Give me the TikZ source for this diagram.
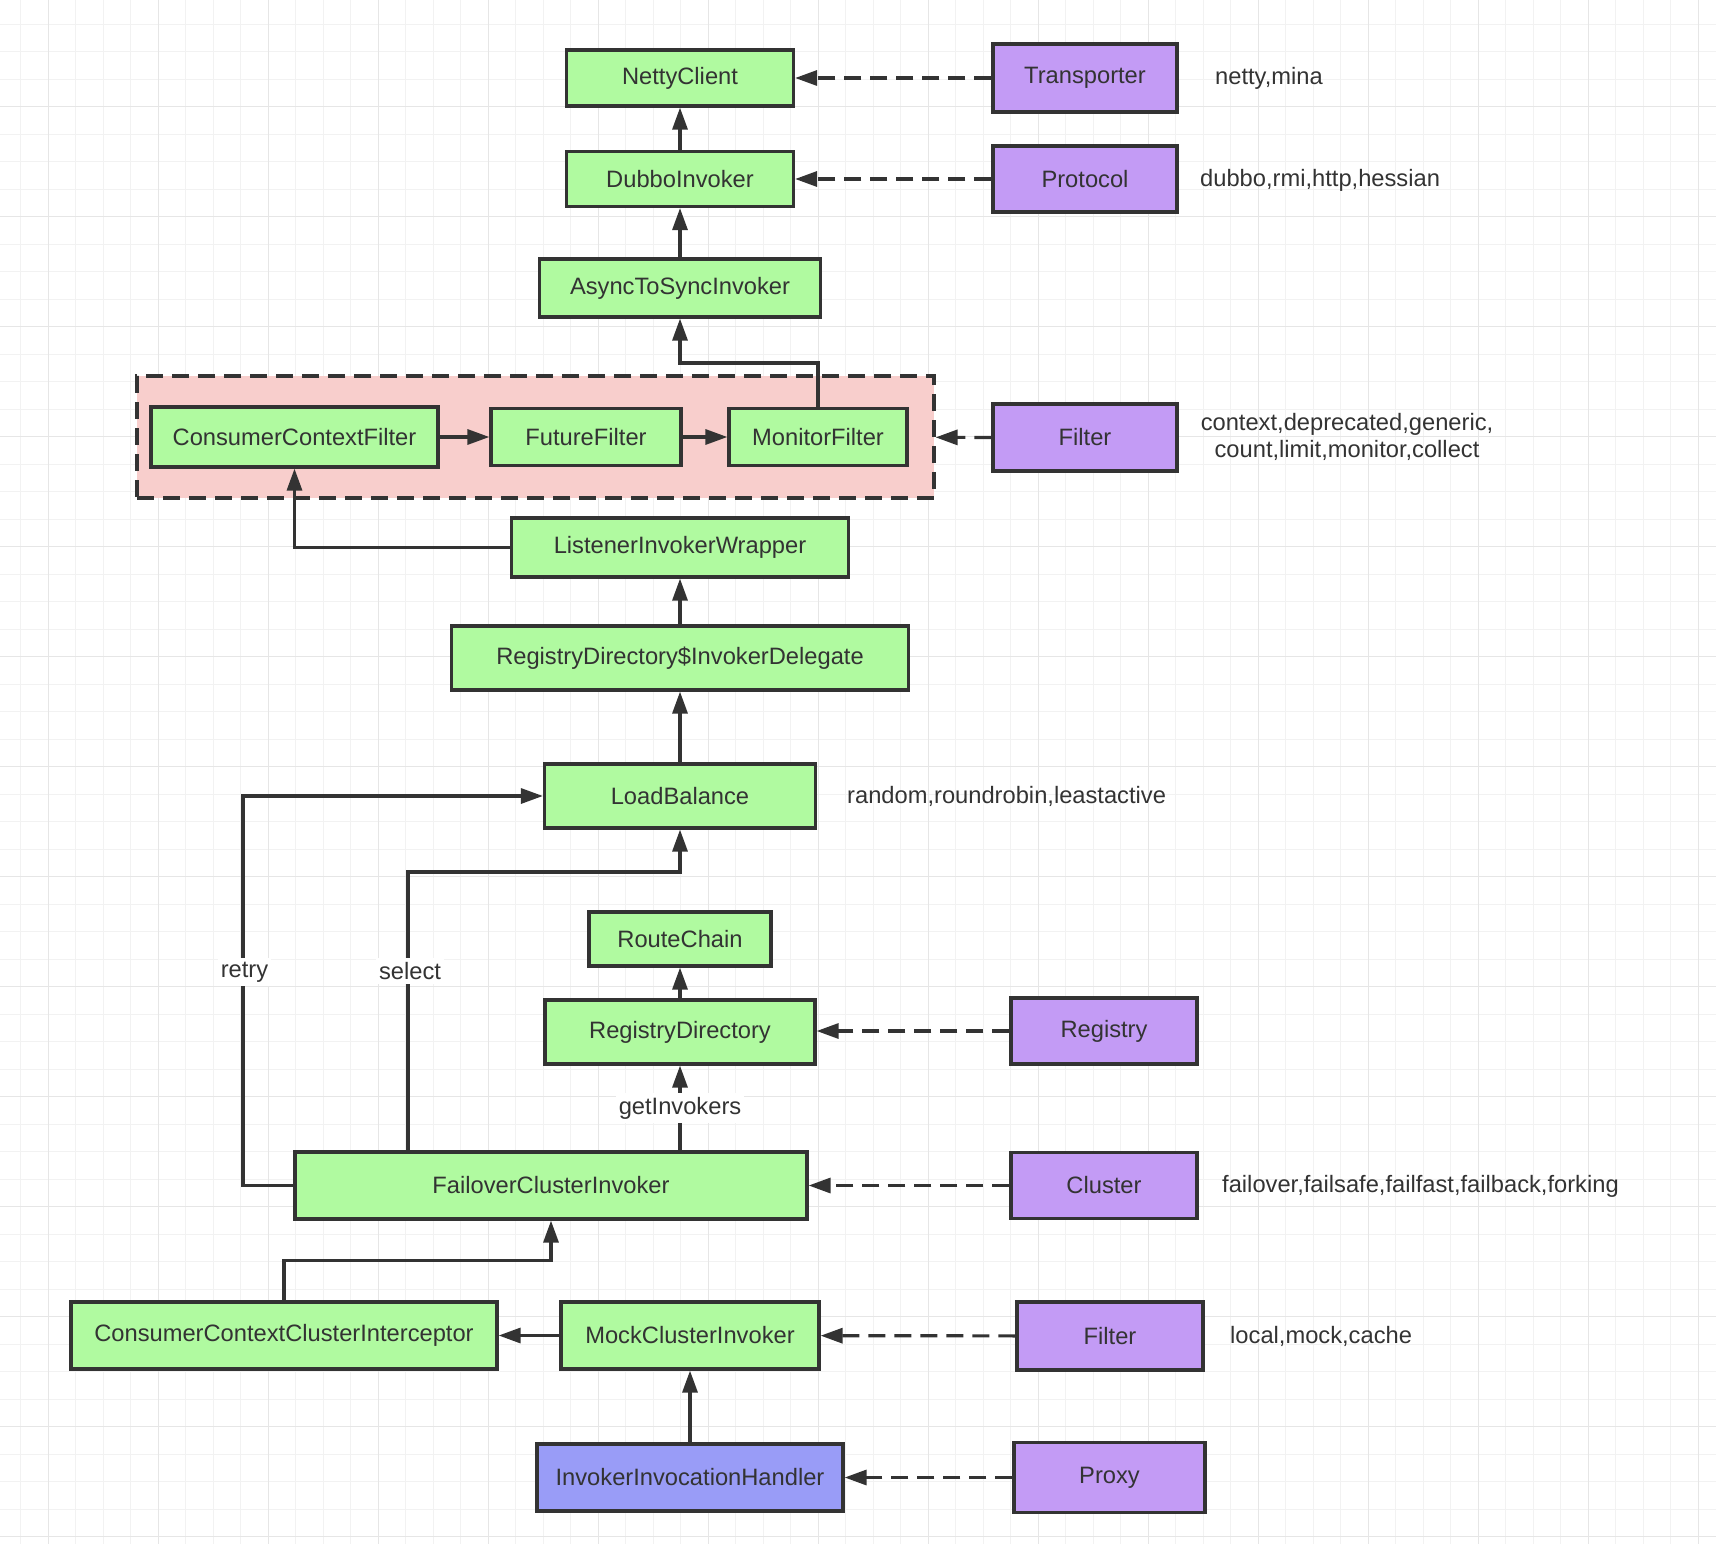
\documentclass[tikz,border=0pt]{standalone}
\usepackage{fontspec}
\setmainfont{Liberation Sans}
\usetikzlibrary{arrows.meta}
\definecolor{ink}{HTML}{333333}
\definecolor{gfill}{HTML}{B0FAA0}
\definecolor{pfill}{HTML}{C39BF5}
\definecolor{bfill}{HTML}{999CF7}
\definecolor{pink}{HTML}{F8CECC}
\definecolor{gminor}{HTML}{F2F2F2}
\definecolor{gmajor}{HTML}{E6E6E6}
\newcommand\nf{\fontsize{23.7}{27}\selectfont}
\begin{document}
\begin{tikzpicture}[x=1pt,y=-1pt,
  box/.style={draw=ink, line width=3.2pt, text=ink, font=\nf, inner sep=0pt},
  gbox/.style={box, fill=gfill},
  pbox/.style={box, fill=pfill},
  bbox/.style={box, fill=bfill},
  arr/.style={draw=ink, line width=3.2pt, -{Triangle[length=22pt,width=15pt]}},
  darr/.style={arr, dash pattern=on 17pt off 9pt},
  note/.style={text=ink, font=\nf, inner sep=0pt, anchor=west},
  lbl/.style={text=ink, font=\nf, fill=white, inner xsep=3pt, inner ysep=4pt},
  gridminor/.style={draw=gminor, line width=1pt},
  gridmajor/.style={draw=gmajor, line width=1.3pt}]
\useasboundingbox (0,0) rectangle (1716,1544);
\fill[white] (0,0) rectangle (1716,1544);
% grid
\foreach \i in {0,...,62} {\pgfmathsetmacro\xx{20.8+27.5*\i}\draw[gridminor] (\xx,0) -- (\xx,1544);}
\foreach \i in {1,...,56} {\pgfmathsetmacro\yy{-3.3+27.5*\i}\draw[gridminor] (0,\yy) -- (1716,\yy);}
\foreach \i in {0,...,15} {\pgfmathsetmacro\xx{48.3+110*\i}\draw[gridmajor] (\xx,0) -- (\xx,1544);}
\foreach \i in {1,...,14} {\pgfmathsetmacro\yy{-3.3+110*\i}\draw[gridmajor] (0,\yy) -- (1716,\yy);}

% filter group box
\node[draw=ink, fill=pink, line width=3.2pt, dash pattern=on 17pt off 9pt, minimum width=797, minimum height=122, inner sep=0pt] (fbox) at (535.5,437) {};

% central column
\node[gbox, minimum width=227, minimum height=56] (netty) at (680,78) {NettyClient};
\node[gbox, minimum width=227, minimum height=55] (dubbo) at (680,179) {DubboInvoker};
\node[gbox, minimum width=281, minimum height=58] (async) at (680,288) {AsyncToSyncInvoker};
\node[gbox, minimum width=287, minimum height=60] (ccf) at (294.5,437) {ConsumerContextFilter};
\node[gbox, minimum width=190, minimum height=57] (ff) at (586,437) {FutureFilter};
\node[gbox, minimum width=178, minimum height=57] (mf) at (818,437) {MonitorFilter};
\node[gbox, minimum width=337, minimum height=59] (liw) at (680,547.5) {ListenerInvokerWrapper};
\node[gbox, minimum width=457, minimum height=64] (rdid) at (680,658) {RegistryDirectory\$InvokerDelegate};
\node[gbox, minimum width=271, minimum height=64] (lb) at (680,796) {LoadBalance};
\node[gbox, minimum width=182, minimum height=54] (rc) at (680,939) {RouteChain};
\node[gbox, minimum width=270, minimum height=64] (rd) at (680,1032) {RegistryDirectory};
\node[gbox, minimum width=512, minimum height=67] (fci) at (551,1185.5) {FailoverClusterInvoker};
\node[gbox, minimum width=426, minimum height=67] (ccci) at (284,1335.5) {ConsumerContextClusterInterceptor};
\node[gbox, minimum width=258, minimum height=67] (mci) at (690,1335.5) {MockClusterInvoker};
\node[bbox, minimum width=306, minimum height=67] (iih) at (690,1477.5) {InvokerInvocationHandler};

% right column
\node[pbox, minimum width=184, minimum height=68] (trans) at (1085,78) {Transporter};
\node[pbox, minimum width=184, minimum height=66] (proto) at (1085,179) {Protocol};
\node[pbox, minimum width=184, minimum height=67] (filt1) at (1085,437.5) {Filter};
\node[pbox, minimum width=186, minimum height=66] (reg) at (1104,1031) {Registry};
\node[pbox, minimum width=186, minimum height=66] (clu) at (1104,1185.5) {Cluster};
\node[pbox, minimum width=186, minimum height=68] (filt2) at (1110,1336) {Filter};
\node[pbox, minimum width=191, minimum height=70] (proxy) at (1109.5,1477.5) {Proxy};

% notes
\node[note] (n1) at (1215,78) {netty,mina};
\node[note] (n2) at (1200,180) {dubbo,rmi,http,hessian};
\node[text=ink, font=\nf, inner sep=0pt, align=center] (n3) at (1347,437) {context,deprecated,generic,\\count,limit,monitor,collect};
\node[note] (n4) at (847,796) {random,roundrobin,leastactive};
\node[note] (n5) at (1222,1186) {failover,failsafe,failfast,failback,forking};
\node[note] (n6) at (1230,1336) {local,mock,cache};

% solid connectors
\draw[arr] (dubbo) -- (netty);
\draw[arr] (async) -- (dubbo);
\draw[arr] (mf.north) -- (mf.north |- 0,363) -| (async.south);
\draw[arr] (ccf) -- (ff);
\draw[arr] (ff) -- (mf);
\draw[arr] (liw.west) -| (ccf.south);
\draw[arr] (rdid) -- (liw);
\draw[arr] (lb) -- (rdid);
\coordinate (rtx) at (243,796);
\draw[arr] (fci.west) -| (rtx) -- (lb.west);
\node[lbl] (retry) at (244.5,972) {retry};
\coordinate (selturn) at (408,872);
\draw[arr] (fci.north -| selturn) -- (selturn) -| (lb.south);
\node[lbl] (select) at (410,971) {select};
\draw[arr] (rd) -- (rc);
\draw[arr] (fci.north -| rd.south) -- node[lbl] (getinv) {getInvokers} (rd.south);
\draw[arr] (ccci.north) -- ++(0,-40) -| (fci.south);
\draw[arr] (mci) -- (ccci);
\draw[arr] (iih) -- (mci);

% dashed connectors
\draw[darr] (trans) -- (netty);
\draw[darr] (proto) -- (dubbo);
\draw[darr] (filt1) -- (fbox);
\draw[darr] (reg.west) -- (rd.east |- reg.west);
\draw[darr] (clu) -- (fci);
\draw[darr] (filt2) -- (mci);
\draw[darr] (proxy) -- (iih);
\end{tikzpicture}
\end{document}
